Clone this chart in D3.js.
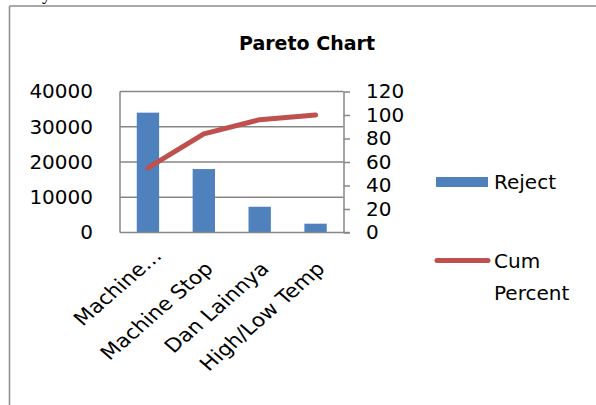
<!DOCTYPE html>
<html><head><meta charset="utf-8">
<script src="https://cdn.jsdelivr.net/npm/d3@7"></script>
<style>html,body{margin:0;padding:0;background:#fff;}svg{display:block;}</style>
</head><body>
<script>
const categories = ["Machine…", "Machine Stop", "Dan Lainnya", "High/Low Temp"];
const rejectValues = [34000, 18000, 7300, 2500];
const cumPercent = [55, 84, 96, 100];
const leftTicks = [0, 10000, 20000, 30000, 40000];
const rightTicks = [0, 20, 40, 60, 80, 100, 120];
const seriesNames = ["Reject", "Cum Percent"];

const W = 596, H = 405;
const font = "DejaVu Sans, sans-serif";
const svg = d3.select("body").append("svg").attr("width", W).attr("height", H);

// outer frame (top and left only visible)
svg.append("line").attr("x1", 9.5).attr("x2", 596).attr("y1", 6).attr("y2", 6).attr("stroke", "#8c8c8c").attr("stroke-width", 1.5);
svg.append("line").attr("x1", 9.5).attr("x2", 9.5).attr("y1", 6).attr("y2", 405).attr("stroke", "#8c8c8c").attr("stroke-width", 1.5);
// fragment of document text above frame
svg.append("text").attr("x", 42).attr("y", 0).attr("font-family", "Liberation Serif, serif").attr("font-size", 18).text("y");

svg.append("text").attr("x", 307).attr("y", 50).attr("text-anchor", "middle")
  .attr("font-family", font).attr("font-weight", "bold").attr("font-size", 19).attr("fill", "#000").text("Pareto Chart");

const pl = 120, pr = 343.5, pt = 91.5, pb = 232.5;
const x = d3.scaleBand().domain(categories).range([pl, pr]).paddingInner(0.6).paddingOuter(0.3);
const xc = d3.scaleBand().domain(categories).range([pl, pr]);
const yL = d3.scaleLinear().domain([0, 40000]).range([pb, pt]);
const yR = d3.scaleLinear().domain([0, 120]).range([pb, pt]);

const gridColor = "#878787";
// gridlines
svg.append("g").selectAll("line").data(leftTicks.filter(d => d > 0)).join("line")
  .attr("x1", pl).attr("x2", pr).attr("y1", d => yL(d)).attr("y2", d => yL(d))
  .attr("stroke", gridColor).attr("stroke-width", 1.5);
// left plot border
svg.append("line").attr("x1", pl).attr("x2", pl).attr("y1", pt).attr("y2", pb).attr("stroke", gridColor).attr("stroke-width", 1.5);

// left axis labels
const gL = svg.append("g").attr("transform", `translate(${pl},0)`)
  .call(d3.axisLeft(yL).tickValues(leftTicks).tickSize(0).tickPadding(27).tickFormat(d3.format("d")));
gL.select(".domain").remove();
gL.selectAll("text").attr("font-family", font).attr("font-size", 20).attr("fill", "#000");

// bars
svg.append("g").selectAll("rect").data(rejectValues).join("rect")
  .attr("x", (d, i) => x(categories[i])).attr("width", x.bandwidth())
  .attr("y", d => yL(d)).attr("height", d => yL(0) - yL(d))
  .attr("fill", "#4F81BD");

// bottom axis line
svg.append("line").attr("x1", pl).attr("x2", pr + 6).attr("y1", pb).attr("y2", pb).attr("stroke", gridColor).attr("stroke-width", 1.5);

// right axis
const gR = svg.append("g").attr("transform", `translate(${pr},0)`)
  .call(d3.axisRight(yR).tickValues(rightTicks).tickSize(6.5).tickPadding(16).tickSizeOuter(0));
gR.select(".domain").attr("stroke", gridColor).attr("stroke-width", 1.5);
gR.selectAll(".tick line").attr("stroke", gridColor).attr("stroke-width", 1.5);
gR.selectAll("text").attr("font-family", font).attr("font-size", 20).attr("fill", "#000");

// line
const line = d3.line().x((d, i) => xc(categories[i]) + xc.bandwidth() / 2).y(d => yR(d));
svg.append("path").datum(cumPercent).attr("d", line).attr("fill", "none")
  .attr("stroke", "#C0504D").attr("stroke-width", 5).attr("stroke-linecap", "round").attr("stroke-linejoin", "round");

// category labels (rotated, slightly stretched horizontally like the reference)
svg.append("g").selectAll("text").data(categories).join("text")
  .attr("transform", (d, i) => {
    const cx = xc(d) + xc.bandwidth() / 2;
    const ax = i === 0 ? cx + 15 : cx + 10.5;
    const ay = i === 0 ? 257 : 270;
    return `translate(${ax},${ay}) scale(1.15,1) rotate(-45)`;
  })
  .attr("text-anchor", "end").attr("font-family", font).attr("font-size", 19).attr("fill", "#000")
  .text(d => d);

// legend
svg.append("rect").attr("x", 436).attr("y", 177).attr("width", 52).attr("height", 10).attr("fill", "#4F81BD");
svg.append("text").attr("x", 494).attr("y", 189).attr("font-family", font).attr("font-size", 20).text(seriesNames[0]);
svg.append("line").attr("x1", 437).attr("x2", 488).attr("y1", 260.5).attr("y2", 260.5)
  .attr("stroke", "#C0504D").attr("stroke-width", 5).attr("stroke-linecap", "round");
const lt = svg.append("text").attr("font-family", font).attr("font-size", 20);
lt.append("tspan").attr("x", 494).attr("y", 268).text("Cum");
lt.append("tspan").attr("x", 494).attr("y", 300).text("Percent");
</script>
</body></html>
